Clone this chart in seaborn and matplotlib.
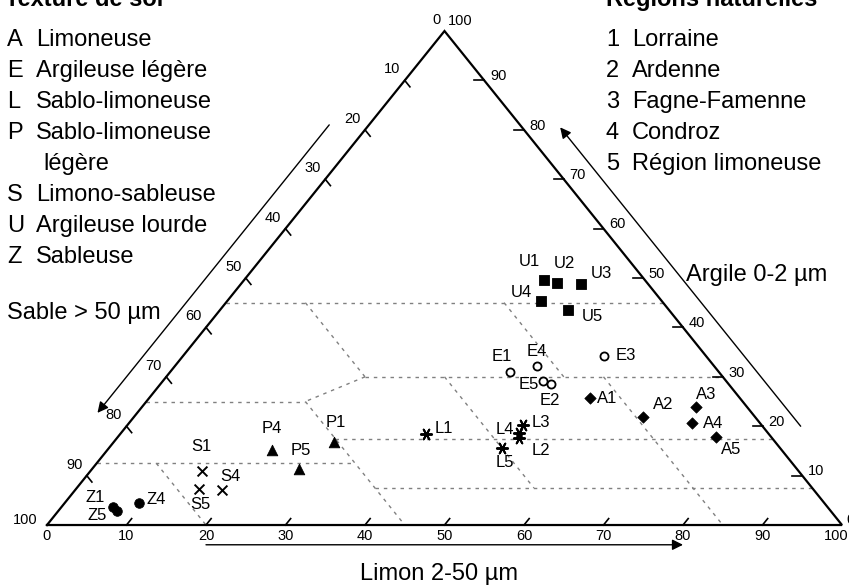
import numpy as np
import pandas as pd
import seaborn as sns
import matplotlib.pyplot as plt

# samples: texture letter + region number, limon (2-50 µm) and argile (0-2 µm) in %
codes = ["Z1", "Z4", "Z5", "S1", "S4", "S5", "P1", "P4", "P5",
         "L1", "L2", "L3", "L4", "L5", "E1", "E2", "E3", "E4", "E5",
         "U1", "U2", "U3", "U4", "U5", "A1", "A2", "A3", "A4", "A5"]
limon = [6.5, 9.3, 7.4, 14.0, 18.5, 15.5, 27.7, 20.7, 26.0,
         38.5, 50.6, 49.8, 50.1, 49.4, 42.7, 49.1, 53.0, 45.5, 47.8,
         37.7, 39.7, 42.8, 39.5, 43.8, 55.5, 64.0, 69.7, 70.8, 75.2]
argile = [3.6, 4.5, 2.8, 10.9, 7.1, 7.3, 16.8, 15.2, 11.3,
          18.4, 17.6, 20.2, 18.6, 15.6, 31.0, 28.5, 34.2, 32.2, 29.1,
          49.6, 49.0, 48.8, 45.3, 43.5, 25.7, 21.9, 23.9, 20.6, 17.8]

textures = ["A", "E", "L", "P", "S", "U", "Z"]
texture_names = ["Limoneuse", "Argileuse légère", "Sablo-limoneuse",
                 "Sablo-limoneuse\nlégère", "Limono-sableuse",
                 "Argileuse lourde", "Sableuse"]
regions = ["Lorraine", "Ardenne", "Fagne-Famenne", "Condroz", "Région limoneuse"]
ticks = [10, 20, 30, 40, 50, 60, 70, 80, 90]

# class boundaries, (limon, argile) at both ends
boundaries = [((0, 45), (55, 45)), ((10, 45), (25, 30)), ((25, 30), (20, 25)),
              ((25, 30), (70, 30)), ((0, 25), (20, 25)), ((20, 25), (45, 0)),
              ((27.5, 17.5), (82.5, 17.5)), ((0, 12.5), (32.5, 12.5)),
              ((37.5, 7.5), (92.5, 7.5)), ((7.5, 12.5), (20, 0)),
              ((35, 30), (57.5, 7.5)), ((35, 45), (50, 30)), ((55, 30), (85, 0))]


def tern(l, a):
    l = np.asarray(l, float)
    a = np.asarray(a, float)
    return l + a / 2, a


df = pd.DataFrame({"code": codes, "limon": limon, "argile": argile})
df["texture"] = df["code"].str[0]
df["x"], df["y"] = tern(df["limon"], df["argile"])

W, H = 849, 588
fig = plt.figure(figsize=(W / 100, H / 100), dpi=100)
ax = fig.add_axes([0, 0, 1, 1])
ax.set_xlim(-5.91, 100.88)
ax.set_ylim(-12.75, 106.28)
ax.axis("off")
plt.rcParams["font.family"] = ["Liberation Sans", "DejaVu Sans"]
font = "Liberation Sans"

# boundaries
for p, q in boundaries:
    x0, y0 = tern(*p)
    x1, y1 = tern(*q)
    ax.plot([x0, x1], [y0, y1], color="#808080", lw=1.0,
            linestyle=(0, (2.5, 3.5)), zorder=1)

# triangle
ax.plot([0, 50, 100, 0], [0, 100, 0, 0], color="black", lw=1.6, zorder=2,
        solid_joinstyle="miter")

tk = dict(color="black", lw=1.2, zorder=2)
for t in ticks:
    # bottom (limon)
    x0, y0 = tern(t, 0)
    x1, y1 = tern(t, 1.3)
    ax.plot([x0, x1], [y0, y1], **tk)
    # right (argile)
    x0, y0 = tern(100 - t, t)
    ax.plot([x0, x0 - 1.25], [y0, y0], **tk)
    # left (sable)
    x0, y0 = tern(0, 100 - t)
    x1, y1 = tern(1.3, 100 - t - 1.3)
    ax.plot([x0, x1], [y0, y1], **tk)

tfs = 10.5
for t in [0] + ticks + [100]:
    dx = -4 if t == 100 else 0
    ax.annotate(str(t), (t, 0), xytext=(dx, -8), textcoords="offset points",
                ha="center", va="center", fontsize=tfs, fontfamily=font)
for t in ticks:
    x, y = tern(100 - t, t)
    ax.annotate(str(t), (x, y), xytext=(10, 3), textcoords="offset points",
                ha="center", va="center", fontsize=tfs, fontfamily=font)
    x, y = tern(0, 100 - t)
    ax.annotate(str(t), (x, y), xytext=(-9, 8), textcoords="offset points",
                ha="center", va="center", fontsize=tfs, fontfamily=font)
ax.annotate("100", (0, 0), xytext=(-16, 3.5), textcoords="offset points",
            ha="center", va="center", fontsize=tfs, fontfamily=font)
ax.annotate("0", (50, 100), xytext=(-5.5, 8), textcoords="offset points",
            ha="center", va="center", fontsize=tfs, fontfamily=font)
ax.annotate("100", (50, 100), xytext=(11.5, 7.5), textcoords="offset points",
            ha="center", va="center", fontsize=tfs, fontfamily=font)
ax.annotate("0", (100, 0), xytext=(3, 3.5), textcoords="offset points",
            ha="left", va="center", fontsize=tfs, fontfamily=font)

# guide arrows
arr = dict(arrowstyle="-|>", color="black", lw=1.0, mutation_scale=16,
           shrinkA=0, shrinkB=0)
ax.annotate("", xy=(80, -4), xytext=(20, -4), arrowprops=arr)
ax.annotate("", xy=(22.7 / 2 - 5, 22.7), xytext=(81 / 2 - 5, 81), arrowprops=arr)
ax.annotate("", xy=(100 - 80.5 / 2 + 4.8, 80.5), xytext=(100 - 20 / 2 + 4.8, 20),
            arrowprops=arr)

# samples
styles = {
    "Z": dict(marker="o", s=48, color="black", edgecolor="black"),
    "S": dict(marker="x", s=50, color="black", linewidth=1.4),
    "P": dict(marker="^", s=58, color="black", edgecolor="black"),
    "L": dict(marker=(6, 2, 90), s=65, color="black", linewidth=1.4),
    "E": dict(marker="o", s=34, color="white", edgecolor="black", linewidth=1.3),
    "U": dict(marker="s", s=58, color="black", edgecolor="black"),
    "A": dict(marker="D", s=34, color="black", edgecolor="black"),
}
for tex, kw in styles.items():
    sub = df[df["texture"] == tex]
    sns.scatterplot(data=sub, x="x", y="y", ax=ax, legend=False, zorder=3, **kw)

offsets = {
    "Z1": (-18, 10), "Z4": (17, 3), "Z5": (-20, -4),
    "S1": (0, 25), "S4": (8, 13), "S5": (1, -16),
    "P1": (2, 20), "P4": (0, 21), "P5": (2, 19),
    "L1": (18, 6), "L2": (22, -12), "L3": (18, 3), "L4": (-14, 4), "L5": (3, -15),
    "E1": (-8, 15), "E2": (-1, -16), "E3": (22, 1), "E4": (0, 14), "E5": (-14, -3),
    "U1": (-14, 18), "U2": (7, 19), "U3": (20, 10), "U4": (-20, 9), "U5": (24, -6),
    "A1": (17, 0), "A2": (20, 12), "A3": (10, 12), "A4": (21, 0), "A5": (16, -12),
}
for _, r in df.iterrows():
    ox, oy = offsets[r["code"]]
    ax.annotate(r["code"], (r["x"], r["y"]), xytext=(ox * 0.72, oy * 0.72),
                textcoords="offset points", ha="center", va="center",
                fontsize=12, fontfamily=font)


def ftext(x, y, s, **kw):
    fig.text(x / W, 1 - y / H, s, fontsize=17, fontfamily=font, va="baseline", **kw)


ftext(5, 6, "Texture de sol", fontweight="bold")
ftext(606, 6, "Régions naturelles", fontweight="bold")
row = 0
for letter, name in zip(textures, texture_names):
    for i, part in enumerate(name.split("\n")):
        y = 46 + 31 * row
        if i == 0:
            ftext(7, y, letter)
            ftext(36, y, part)
        else:
            ftext(43, y, part)
        row += 1
for i, name in enumerate(regions):
    y = 46 + 31 * i
    ftext(606, y, str(i + 1))
    ftext(632, y, name)

ftext(7, 319, "Sable > 50 µm")
ftext(686, 281, "Argile 0-2 µm")
ftext(439, 580, "Limon 2-50 µm", ha="center")

fig.savefig("out.png", dpi=100)
